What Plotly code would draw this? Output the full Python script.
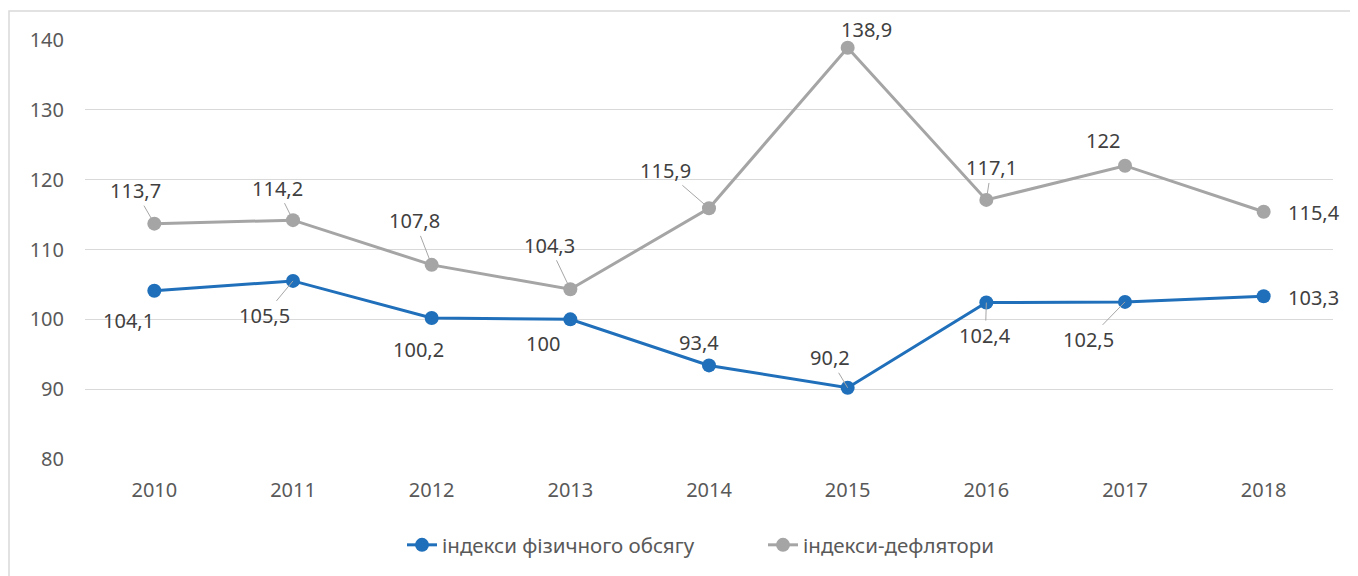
import plotly.graph_objects as go

years = ['2010', '2011', '2012', '2013', '2014', '2015', '2016', '2017', '2018']
physical = [104.1, 105.5, 100.2, 100, 93.4, 90.2, 102.4, 102.5, 103.3]
deflators = [113.7, 114.2, 107.8, 104.3, 115.9, 138.9, 117.1, 122, 115.4]
name_phys = 'індекси фізичного обсягу'
name_defl = 'індекси-дефлятори'
y_ticks = [80, 90, 100, 110, 120, 130, 140]

# label offsets (px) relative to the point, and whether a leader line is shown
defl_off = [(-19, -33, True), (-16, -32, True), (-17, -44, True), (-21, -44, True),
            (-44, -38, True), (19, -18, False), (5, -32, True), (-22, -25, False), (50, 1, False)]
phys_off = [(-26, 30, False), (-29, 35, True), (-13, 32, False), (-27, 24, False),
            (-10, -23, False), (-18, -30, True), (-1, 33, True), (-37, 38, True), (50, 1, False)]

BLUE = '#1F6FBA'
GRAY = '#A5A5A5'
FONT = 'Noto Sans'

fig = go.Figure()
fig.add_trace(go.Scatter(x=years, y=physical, name=name_phys, mode='lines+markers',
                         line=dict(color=BLUE, width=3), marker=dict(size=14, color=BLUE)))
fig.add_trace(go.Scatter(x=years, y=deflators, name=name_defl, mode='lines+markers',
                         line=dict(color=GRAY, width=3), marker=dict(size=14, color=GRAY)))

def fmt(v):
    s = ('%g' % v)
    return s.replace('.', ',')

LBL = dict(family=FONT, size=20, color='#404040')
anns = []
for vals, offs in ((deflators, defl_off), (physical, phys_off)):
    for i, (v, (dx, dy, arrow)) in enumerate(zip(vals, offs)):
        if arrow:
            anns.append(dict(x=i, y=v, text=fmt(v), showarrow=True, ax=dx, ay=dy,
                             arrowhead=0, arrowwidth=1, arrowcolor='#A6A6A6', font=LBL))
        else:
            anns.append(dict(x=i, y=v, text=fmt(v), showarrow=False, xshift=dx, yshift=-dy,
                             font=LBL))

# page body adds an 8px offset; compensate so plot area sits at x 85..1333, y 40..459 on screen
OFF = 8
W, H = 1358, 576
L, T = 85 - OFF, 40 - OFF
pw, ph = 1248, 419
R, B = W - L - pw, H - T - ph

def px_x(p):
    return (p - OFF - L) / pw

def px_y(p):
    return (T + ph - (p - OFF)) / ph

fig.update_layout(
    width=W, height=H,
    margin=dict(l=L, r=R, t=T, b=B),
    paper_bgcolor='white', plot_bgcolor='white',
    font=dict(family=FONT, size=20, color='#595959'),
    showlegend=True,
    legend=dict(orientation='h', x=px_x(402), xanchor='left', y=px_y(545), yanchor='middle',
                font=dict(family=FONT, size=20.5, color='#595959'),
                entrywidth=316, entrywidthmode='pixels',
                traceorder='normal'),
    annotations=anns,
    shapes=[dict(type='rect', xref='paper', yref='paper',
                 x0=px_x(9), x1=px_x(1357), y0=px_y(600), y1=px_y(11),
                 line=dict(color='#D9D9D9', width=1.5), fillcolor='rgba(0,0,0,0)', layer='below')],
)
fig.update_xaxes(type='category', range=[-0.5, len(years) - 0.5], autorange=False,
                 showgrid=False, showline=False, zeroline=False, ticks='',
                 ticklabelstandoff=17, tickfont=dict(family=FONT, size=20, color='#595959'))
fig.update_yaxes(range=[80, 140], tickvals=y_ticks, showgrid=True, gridcolor='#D9D9D9', gridwidth=1.3,
                 zeroline=False, showline=False, ticks='', ticklabelstandoff=20,
                 tickfont=dict(family=FONT, size=20, color='#595959'))

fig.write_html('out.html')
